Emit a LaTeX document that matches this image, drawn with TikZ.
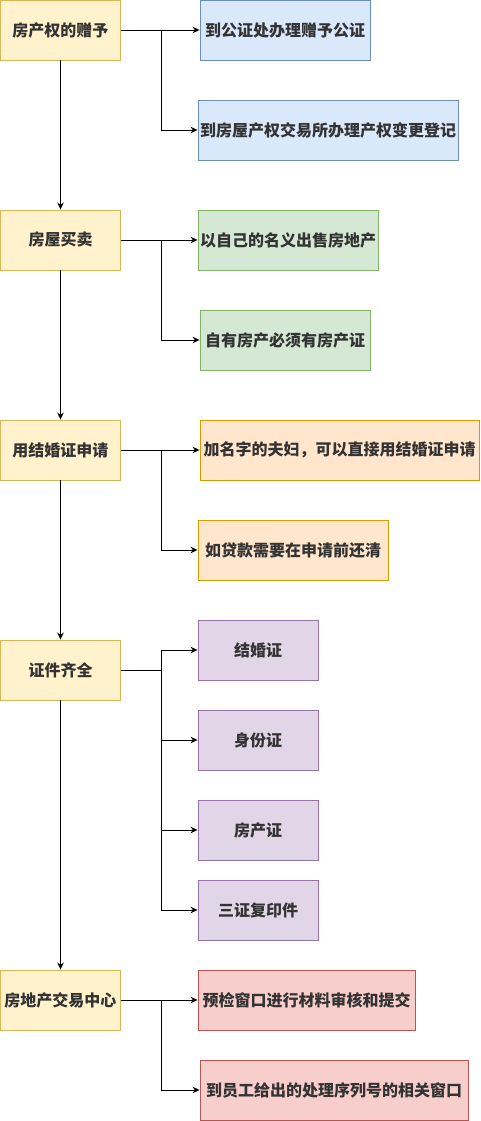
\documentclass[tikz,border=0pt]{standalone}
\usepackage{fontspec}
\setmainfont{Noto Sans CJK SC}
\usetikzlibrary{arrows.meta}

\definecolor{mainfill}{HTML}{FFF2CC}
\definecolor{maindraw}{HTML}{D6B656}
\definecolor{bluefill}{HTML}{DAE8FC}
\definecolor{bluedraw}{HTML}{6C8EBF}
\definecolor{greenfill}{HTML}{D5E8D4}
\definecolor{greendraw}{HTML}{82B366}
\definecolor{orangefill}{HTML}{FFE6CC}
\definecolor{orangedraw}{HTML}{D79B00}
\definecolor{purplefill}{HTML}{E1D5E7}
\definecolor{purpledraw}{HTML}{9673A6}
\definecolor{redfill}{HTML}{F8CECC}
\definecolor{reddraw}{HTML}{B85450}
\definecolor{txt}{HTML}{333333}

\begin{document}
\begin{tikzpicture}[x=1pt, y=-1pt,
  font=\fontsize{16}{19}\selectfont\bfseries,
  box/.style={draw, rectangle, line width=0.9pt, minimum height=60, inner sep=0, text=txt},
  mainbox/.style={box, fill=mainfill, draw=maindraw, minimum width=120},
  bluebox/.style={box, fill=bluefill, draw=bluedraw},
  greenbox/.style={box, fill=greenfill, draw=greendraw},
  orangebox/.style={box, fill=orangefill, draw=orangedraw},
  purplebox/.style={box, fill=purplefill, draw=purpledraw, minimum width=120},
  redbox/.style={box, fill=redfill, draw=reddraw},
  link/.style={line width=0.9pt, -{Stealth[length=7pt, width=6.5pt]}}]

\useasboundingbox (0,0) rectangle (481,1121);

% main column
\node[mainbox] (gift)   at (60.5,30)   {房产权的赠予};
\node[mainbox] (sale)   at (60.5,240)  {房屋买卖};
\node[mainbox] (apply)  at (60.5,450)  {用结婚证申请};
\node[mainbox] (docs)   at (60.5,670)  {证件齐全};
\node[mainbox] (center) at (60.5,1000) {房地产交易中心};

\draw[link] (gift) -- (sale);
\draw[link] (sale) -- (apply);
\draw[link] (apply) -- (docs);
\draw[link] (docs) -- (center);

% gift
\node[bluebox, minimum width=170] (notary)   at (285,30)  {到公证处办理赠予公证};
\node[bluebox, minimum width=260] (transfer) at (328,130) {到房屋产权交易所办理产权变更登记};
\draw[link] (gift.east) -- (notary.west);
\draw[link] (gift.east) -- ++(40,0) |- (transfer.west);

% sale
\node[greenbox, minimum width=180] (ownname) at (288,240) {以自己的名义出售房地产};
\node[greenbox, minimum width=170] (cert)    at (285,340) {自有房产必须有房产证};
\draw[link] (sale.east) -- (ownname.west);
\draw[link] (sale.east) -- ++(40,0) |- (cert.west);

% apply
\node[orangebox, minimum width=279] (couple) at (339.5,450) {加名字的夫妇，可以直接用结婚证申请};
\node[orangebox, minimum width=190] (loan)   at (293,550)   {如贷款需要在申请前还清};
\draw[link] (apply.east) -- (couple.west);
\draw[link] (apply.east) -- ++(40,0) |- (loan.west);

% docs
\node[purplebox] (marriage) at (258,650) {结婚证};
\node[purplebox] (idcard)   at (258,740) {身份证};
\node[purplebox] (deed)     at (258,830) {房产证};
\node[purplebox] (copies)   at (258,910) {三证复印件};
\foreach \t in {marriage, idcard, deed, copies}
  \draw[link] (docs.east) -- ++(40,0) |- (\t.west);

% center
\node[redbox, minimum width=217] (check)  at (306.5,1000) {预检窗口进行材料审核和提交};
\node[redbox, minimum width=268] (window) at (334,1090)   {到员工给出的处理序列号的相关窗口};
\draw[link] (center.east) -- (check.west);
\draw[link] (center.east) -- ++(40,0) |- (window.west);

\end{tikzpicture}
\end{document}
